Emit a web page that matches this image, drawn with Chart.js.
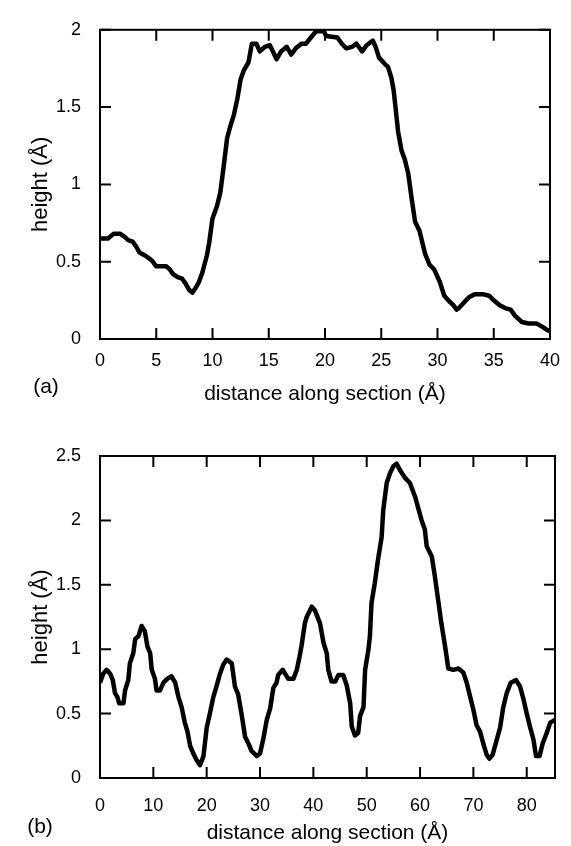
<!DOCTYPE html>
<html>
<head>
<meta charset="utf-8">
<script src="https://cdn.jsdelivr.net/npm/chart.js@4"></script>
<style>
  body { margin: 0; background: #fff; }
  canvas { position: absolute; left: 0; }
  #ca { top: 0; }
  #cb { top: 420px; }
</style>
</head>
<body>
<canvas id="ca" width="571" height="420"></canvas>
<canvas id="cb" width="571" height="426"></canvas>
<script>
// (a) profile
var aDist = [0,0.7,1.2,1.8,2.2,2.5,2.9,3.2,3.5,4,4.4,4.7,5,5.9,6.2,6.5,6.9,7.3,7.6,7.9,8.2,8.5,8.8,9.1,9.5,9.7,10,10.4,10.7,11,11.3,11.6,11.9,12.2,12.5,12.8,13.2,13.5,13.9,14.2,14.65,15.1,15.7,16.1,16.6,17,17.4,17.9,18.3,18.75,19.2,19.9,20.1,21.1,21.5,21.9,22.4,22.8,23.3,23.7,24.25,24.5,24.8,25.3,25.6,25.9,26.1,26.25,26.5,26.8,27.1,27.4,27.7,28,28.4,28.9,29.3,29.7,30.2,30.6,31.1,31.4,31.7,31.9,32.4,32.8,33.3,34,34.6,35,35.5,36,36.5,36.9,37.5,38.1,38.8,39.3,39.7,40];
var aHeight = [0.65,0.65,0.68,0.68,0.66,0.64,0.63,0.6,0.56,0.54,0.52,0.5,0.47,0.47,0.45,0.42,0.4,0.39,0.36,0.32,0.3,0.33,0.37,0.43,0.54,0.62,0.78,0.86,0.95,1.12,1.3,1.38,1.45,1.55,1.68,1.74,1.79,1.91,1.91,1.86,1.89,1.9,1.81,1.86,1.89,1.84,1.88,1.91,1.91,1.95,1.99,1.99,1.96,1.95,1.91,1.88,1.89,1.91,1.86,1.9,1.93,1.89,1.82,1.78,1.76,1.69,1.61,1.51,1.34,1.22,1.16,1.07,0.91,0.76,0.7,0.55,0.48,0.45,0.37,0.28,0.24,0.22,0.19,0.2,0.24,0.27,0.29,0.29,0.28,0.25,0.22,0.2,0.19,0.15,0.11,0.1,0.1,0.08,0.06,0.05];

// (b) profile
var bDist = [0,0.6,1.25,1.9,2.4,2.8,3.25,3.6,4.4,4.7,5.3,5.6,6.25,6.6,7.2,7.8,8.4,8.9,9.4,9.7,10.3,10.6,11.25,11.9,12.6,13.4,14.1,14.7,15.3,15.9,16.4,16.9,17.5,18.1,18.75,19.4,20,20.6,21.25,21.9,22.5,23.1,23.75,24.7,25.3,25.9,26.6,27.2,27.8,28.4,29.4,30,30.6,31.25,31.9,32.5,33.1,33.4,34.25,35.3,36.25,36.9,37.4,37.8,38.4,38.75,39.7,40.3,41.25,41.9,42.5,42.8,43.4,44.1,44.7,45.6,46.25,46.9,47.2,47.8,48.4,48.75,49.4,49.7,50.3,50.6,50.9,51.5,52.1,52.8,53.1,53.75,54.4,55,55.6,56.25,57.2,58.1,59.1,59.7,60.3,60.9,61.25,62.2,62.8,63.4,64,64.7,65.3,66.25,67.2,68.1,68.75,69.4,70,70.6,71.25,71.9,72.5,73,73.6,74.4,75,75.6,76.25,77,78,78.75,79.4,80,80.6,81.25,81.75,82.4,83,83.75,84.4,85.3];
var bHeight = [0.74,0.81,0.84,0.81,0.76,0.66,0.63,0.58,0.58,0.68,0.76,0.89,0.97,1.08,1.1,1.18,1.14,1.02,0.97,0.84,0.77,0.68,0.68,0.74,0.77,0.79,0.74,0.63,0.55,0.43,0.36,0.25,0.19,0.14,0.1,0.17,0.39,0.5,0.63,0.72,0.81,0.88,0.92,0.89,0.71,0.65,0.48,0.32,0.27,0.21,0.17,0.19,0.3,0.45,0.54,0.7,0.74,0.8,0.84,0.77,0.77,0.84,0.94,1.03,1.2,1.25,1.33,1.3,1.2,1.05,0.97,0.84,0.75,0.75,0.8,0.8,0.72,0.58,0.4,0.33,0.35,0.48,0.55,0.84,0.99,1.1,1.36,1.51,1.69,1.87,2.08,2.29,2.37,2.42,2.44,2.39,2.33,2.29,2.18,2.09,2,1.93,1.8,1.72,1.56,1.38,1.2,1.02,0.85,0.84,0.85,0.82,0.74,0.63,0.53,0.41,0.36,0.26,0.18,0.15,0.18,0.3,0.39,0.55,0.66,0.74,0.76,0.71,0.61,0.5,0.4,0.3,0.17,0.17,0.27,0.35,0.43,0.45];

var aTicksX = [0,40,5];
var aTicksY = [0,2,0.5];
var bTicksX = [0,85.3,10];
var bTicksY = [0,2.5,0.5];

var FONT = "'Liberation Sans', Arial, Helvetica, sans-serif";

function toPoints(xs, ys) {
    var pts = [];
    for (var i = 0; i < xs.length; i++) pts.push({x: xs[i], y: ys[i]});
    return pts;
}

// frame with inward ticks on all four sides + panel letter
var frame = {
    id: 'frame',
    beforeDatasetsDraw: function (chart) {
        var c = chart.ctx, a = chart.chartArea, sx = chart.scales.x, sy = chart.scales.y;
        var tl = 11;
        c.save();
        c.strokeStyle = '#000';
        c.lineWidth = 2;
        c.strokeRect(a.left, a.top, a.right - a.left, a.bottom - a.top);
        c.beginPath();
        sx.ticks.forEach(function (t) {
            var p = sx.getPixelForValue(t.value);
            c.moveTo(p, a.bottom); c.lineTo(p, a.bottom - tl);
            c.moveTo(p, a.top); c.lineTo(p, a.top + tl);
        });
        sy.ticks.forEach(function (t) {
            var p = sy.getPixelForValue(t.value);
            c.moveTo(a.left, p); c.lineTo(a.left + tl, p);
            c.moveTo(a.right, p); c.lineTo(a.right - tl, p);
        });
        c.stroke();
        c.restore();
    },
    afterDraw: function (chart) {
        var o = chart.options.plugins.frame;
        var c = chart.ctx;
        c.save();
        c.fillStyle = '#000';
        c.font = '21px ' + FONT;
        c.textAlign = 'center';
        c.textBaseline = 'middle';
        c.fillText(o.letter, o.lx, o.ly);
        c.restore();
    }
};

function makeChart(id, xs, ys, tx, ty, opt) {
    return new Chart(document.getElementById(id), {
        type: 'line',
        data: {
            datasets: [{
                data: toPoints(xs, ys),
                borderColor: '#000',
                borderWidth: 4.5,
                borderJoinStyle: 'round',
                pointRadius: 0,
                tension: 0,
                fill: false
            }]
        },
        options: {
            responsive: false,
            animation: false,
            layout: {padding: {left: 0, right: 16, top: opt.top, bottom: 0}},
            plugins: {
                legend: {display: false},
                tooltip: {enabled: false},
                frame: {letter: opt.letter, lx: opt.lx, ly: opt.ly}
            },
            scales: {
                x: {
                    type: 'linear',
                    min: tx[0], max: tx[1],
                    grid: {display: false, drawTicks: false},
                    border: {display: false},
                    ticks: {
                        stepSize: tx[2], includeBounds: false, padding: opt.xpad,
                        color: '#000', font: {family: FONT, size: 18},
                        callback: function (v) { return String(v); }
                    },
                    title: {
                        display: true, text: 'distance along section (Å)', color: '#000',
                        font: {family: FONT, size: 21}, padding: {top: 0, bottom: opt.tpad}
                    },
                    afterFit: function (s) { s.height = opt.xh; }
                },
                y: {
                    type: 'linear',
                    min: ty[0], max: ty[1],
                    grid: {display: false, drawTicks: false},
                    border: {display: false},
                    ticks: {
                        stepSize: ty[2], padding: 19,
                        color: '#000', font: {family: FONT, size: 18},
                        callback: function (v) { return String(v); }
                    },
                    title: {
                        display: true, text: 'height (Å)', color: '#000',
                        font: {family: FONT, size: 22}, padding: {top: 28, bottom: 0}
                    },
                    afterFit: function (s) { s.width = 100; }
                }
            }
        },
        plugins: [frame]
    });
}

makeChart('ca', aDist, aHeight, aTicksX, aTicksY,
    {top: 17, xh: 81, xpad: 11, tpad: 13, letter: '(a)', lx: 46, ly: 387});
makeChart('cb', bDist, bHeight, bTicksX, bTicksY,
    {top: 36, xh: 68, xpad: 17, tpad: 0, letter: '(b)', lx: 40, ly: 407});
</script>
</body>
</html>
